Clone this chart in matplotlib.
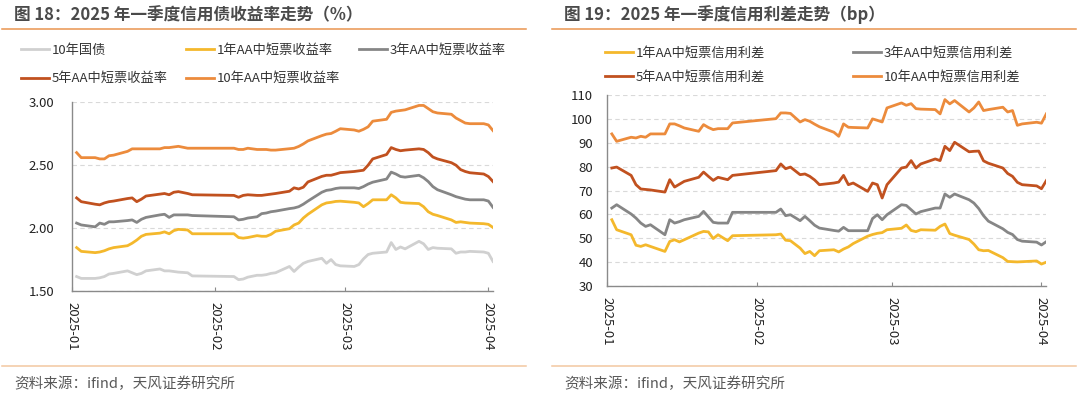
import matplotlib
matplotlib.use('Agg')
import matplotlib.pyplot as plt
import matplotlib.dates as mdates
import pandas as pd
from matplotlib.lines import Line2D

plt.rcParams['font.family'] = ['Noto Sans CJK SC', 'DejaVu Sans']

# 交易日（含 1 月 26 日、2 月 8 日调休工作日）
dates = pd.to_datetime([
    '2025-01-02', '2025-01-03', '2025-01-06', '2025-01-07', '2025-01-08', '2025-01-09', '2025-01-10',
    '2025-01-13', '2025-01-14', '2025-01-15', '2025-01-16', '2025-01-17', '2025-01-20', '2025-01-21',
    '2025-01-22', '2025-01-23', '2025-01-24', '2025-01-26', '2025-01-27',
    '2025-02-05', '2025-02-06', '2025-02-07', '2025-02-08', '2025-02-10', '2025-02-11', '2025-02-12',
    '2025-02-13', '2025-02-14', '2025-02-17', '2025-02-18', '2025-02-19', '2025-02-20', '2025-02-21',
    '2025-02-24', '2025-02-25', '2025-02-26', '2025-02-27', '2025-02-28',
    '2025-03-03', '2025-03-04', '2025-03-05', '2025-03-06', '2025-03-07', '2025-03-10', '2025-03-11',
    '2025-03-12', '2025-03-13', '2025-03-14', '2025-03-17', '2025-03-18', '2025-03-19', '2025-03-20',
    '2025-03-21', '2025-03-24', '2025-03-25', '2025-03-26', '2025-03-27', '2025-03-28', '2025-03-31',
    '2025-04-01', '2025-04-02'])

# 图 18：收益率（%）
gov10 = [1.615, 1.600, 1.600, 1.605, 1.615, 1.635, 1.640, 1.660, 1.645, 1.630, 1.640, 1.660, 1.675, 1.660,
         1.660, 1.655, 1.650, 1.645, 1.620,
         1.615, 1.590, 1.595, 1.610, 1.625, 1.625, 1.630, 1.640, 1.645, 1.695, 1.655, 1.690, 1.720, 1.735,
         1.760, 1.720, 1.750, 1.710, 1.700,
         1.695, 1.710, 1.755, 1.790, 1.800, 1.810, 1.885, 1.830, 1.850, 1.835, 1.895, 1.875, 1.830, 1.845,
         1.840, 1.835, 1.800, 1.810, 1.810, 1.815, 1.810,
         1.800, 1.735]
aa1y = [1.845, 1.815, 1.805, 1.810, 1.820, 1.835, 1.845, 1.860, 1.880, 1.905, 1.935, 1.950, 1.960, 1.970,
        1.955, 1.980, 1.990, 1.985, 1.955,
        1.955, 1.925, 1.920, 1.925, 1.940, 1.935, 1.935, 1.950, 1.975, 1.995, 2.025, 2.040, 2.080, 2.110,
        2.185, 2.200, 2.205, 2.212, 2.214,
        2.205, 2.200, 2.170, 2.195, 2.225, 2.225, 2.265, 2.240, 2.205, 2.200, 2.195, 2.170, 2.130, 2.110,
        2.100, 2.065, 2.045, 2.050, 2.045, 2.040, 2.035,
        2.030, 2.005]
aa3y = [2.040, 2.025, 2.010, 2.040, 2.030, 2.050, 2.050, 2.060, 2.065, 2.045, 2.070, 2.085, 2.105, 2.110,
        2.085, 2.105, 2.105, 2.105, 2.100,
        2.090, 2.065, 2.070, 2.080, 2.090, 2.115, 2.120, 2.130, 2.135, 2.155, 2.160, 2.170, 2.190, 2.215,
        2.285, 2.300, 2.305, 2.315, 2.320,
        2.320, 2.315, 2.330, 2.350, 2.365, 2.390, 2.445, 2.430, 2.410, 2.405, 2.420, 2.400, 2.370, 2.330,
        2.305, 2.265, 2.250, 2.240, 2.230, 2.225, 2.225,
        2.215, 2.165]
aa5y = [2.240, 2.210, 2.190, 2.185, 2.200, 2.210, 2.215, 2.235, 2.240, 2.210, 2.230, 2.255, 2.270, 2.275,
        2.265, 2.285, 2.290, 2.275, 2.265,
        2.260, 2.245, 2.260, 2.265, 2.260, 2.260, 2.265, 2.270, 2.275, 2.293, 2.320, 2.311, 2.325, 2.367,
        2.411, 2.420, 2.420, 2.430, 2.441,
        2.450, 2.455, 2.460, 2.500, 2.550, 2.585, 2.640, 2.625, 2.615, 2.620, 2.630, 2.625, 2.600, 2.565,
        2.550, 2.520, 2.500, 2.465, 2.450, 2.440, 2.430,
        2.410, 2.370]
aa10y = [2.600, 2.560, 2.560, 2.550, 2.550, 2.575, 2.580, 2.610, 2.630, 2.630, 2.630, 2.630, 2.630, 2.640,
         2.640, 2.645, 2.650, 2.635, 2.635,
         2.635, 2.625, 2.625, 2.635, 2.625, 2.625, 2.625, 2.620, 2.620, 2.631, 2.635, 2.649, 2.669, 2.693,
         2.735, 2.747, 2.752, 2.770, 2.790,
         2.780, 2.770, 2.785, 2.805, 2.850, 2.865, 2.920, 2.930, 2.935, 2.940, 2.975, 2.975, 2.950, 2.925,
         2.915, 2.905, 2.875, 2.855, 2.835, 2.830, 2.830,
         2.820, 2.775]

# 图 19：信用利差（bp）
sp1y = [57.8, 53.6, 51.5, 47.1, 46.6, 47.3, 46.6, 44.5, 48.7, 49.4, 48.5, 49.4, 52.2, 52.9, 52.7, 49.9,
        51.5, 49.0, 51.1,
        51.5, 51.8, 49.2, 49.0, 45.9, 43.6, 44.5, 42.7, 44.8, 45.2, 44.3, 45.5, 46.4, 47.8, 50.9, 51.6,
        52.1, 52.4, 53.6,
        54.2, 55.6, 53.3, 52.8, 53.6, 53.4, 55.0, 56.0, 52.0, 51.3, 49.5, 47.6, 45.2, 44.8, 44.9, 41.9,
        40.3, 40.2, 40.1, 40.2, 40.5,
        39.2, 40.0]
sp3y = [62.7, 64.1, 60.2, 58.5, 56.4, 55.0, 55.7, 51.5, 57.8, 56.4, 57.0, 57.8, 59.2, 61.3, 59.0, 56.7,
        56.4, 56.4, 60.9,
        60.9, 62.3, 59.5, 59.9, 57.4, 59.2, 57.4, 55.5, 54.3, 53.3, 53.0, 54.6, 53.2, 53.2, 53.2, 58.3,
        59.9, 57.8, 59.9,
        64.1, 63.8, 62.0, 60.2, 61.2, 62.7, 62.7, 68.6, 67.2, 68.6, 66.2, 64.8, 62.5, 59.5, 57.2, 54.0,
        52.5, 51.6, 49.5, 48.8, 48.4,
        47.2, 48.6]
sp5y = [79.5, 79.9, 76.4, 72.5, 70.7, 70.5, 70.3, 69.4, 74.6, 71.5, 72.7, 73.9, 75.6, 77.8, 76.0, 74.3,
        75.6, 74.6, 76.4,
        78.4, 81.2, 79.2, 79.9, 76.7, 77.0, 76.0, 74.5, 72.5, 73.2, 73.6, 76.4, 72.5, 73.2, 69.7, 73.2,
        72.5, 66.9, 72.5,
        79.5, 79.9, 82.6, 79.5, 81.2, 83.3, 82.6, 88.6, 86.8, 90.3, 86.3, 86.5, 86.6, 82.5, 81.5, 79.5,
        77.2, 76.0, 73.5, 72.5, 72.0,
        70.8, 74.2]
sp10y = [93.8, 90.7, 92.4, 92.1, 92.8, 92.4, 93.8, 93.8, 98.0, 98.0, 97.2, 96.3, 94.9, 97.7, 96.5, 95.6,
         96.0, 96.0, 98.4,
         100.2, 102.6, 102.6, 102.4, 98.8, 99.8, 99.1, 97.9, 96.8, 94.5, 92.8, 98.0, 96.6, 96.5, 96.3,
         100.1, 99.5, 98.8, 104.7,
         106.8, 105.8, 106.5, 104.4, 104.2, 104.0, 102.2, 108.2, 106.4, 107.8, 103.0, 104.7, 107.2, 103.6,
         104.0, 105.0, 103.0, 103.6, 97.4, 98.0, 98.7,
         98.3, 102.2]

left_names = ['10年国债', '1年AA中短票收益率', '3年AA中短票收益率', '5年AA中短票收益率', '10年AA中短票收益率']
right_names = ['1年AA中短票信用利差', '3年AA中短票信用利差', '5年AA中短票信用利差', '10年AA中短票信用利差']

c_gov = '#d0d0d0'
c_1y = '#f4b82c'
c_3y = '#868686'
c_5y = '#c1511f'
c_10y = '#ec8b3c'

W, H = 1080, 397
fig = plt.figure(figsize=(W / 100, H / 100), dpi=100)


def fx(px):
    return px / W


def fy(py):
    return 1 - py / H


def style_axes(ax, ypad):
    for s in ['top', 'right']:
        ax.spines[s].set_visible(False)
    for s in ['left', 'bottom']:
        ax.spines[s].set_color('#8a8a8a')
        ax.spines[s].set_linewidth(1.0)
    ax.set_xlim(pd.Timestamp('2025-01-01'), pd.Timestamp('2025-04-02'))
    ax.xaxis.set_major_locator(mdates.MonthLocator())
    ax.xaxis.set_major_formatter(mdates.DateFormatter('%Y-%m'))
    ax.tick_params(axis='x', direction='in', length=3, color='#8a8a8a', labelsize=9.5,
                   labelrotation=-90, pad=8, labelcolor='#222222')
    ax.tick_params(axis='y', length=0, labelsize=9.5, pad=ypad, labelcolor='#222222')
    ax.yaxis.grid(True, linestyle=(0, (4, 3)), color='#d9d9d9', linewidth=0.8)
    ax.set_axisbelow(True)


# 左图
ax1 = fig.add_axes([fx(72), fy(291), fx(421), (291 - 102.3) / H])
for vals, c in zip([gov10, aa1y, aa3y, aa5y, aa10y], [c_gov, c_1y, c_3y, c_5y, c_10y]):
    ax1.plot(dates, vals, color=c, lw=2.0, solid_joinstyle='round')
ax1.set_ylim(1.5, 3.0)
ax1.set_yticks([1.5, 2.0, 2.5, 3.0])
ax1.yaxis.set_major_formatter(plt.FormatStrFormatter('%.2f'))
style_axes(ax1, 13)

h = ax1.get_lines()
order = [0, 3, 1, 4, 2]
leg1 = ax1.legend([h[i] for i in order], [left_names[i] for i in order], ncol=3, loc='upper left',
                  bbox_to_anchor=(fx(21), fy(44)), bbox_transform=fig.transFigure, frameon=False,
                  fontsize=9.5, handlelength=2.1, handletextpad=0.2, columnspacing=1.45,
                  labelspacing=1.15, borderpad=0, borderaxespad=0)
for t in leg1.get_texts():
    t.set_color('#333333')

# 右图
ax2 = fig.add_axes([fx(607), fy(286), fx(439.3), (286 - 95.3) / H])
for vals, c in zip([sp1y, sp3y, sp5y, sp10y], [c_1y, c_3y, c_5y, c_10y]):
    ax2.plot(dates, vals, color=c, lw=2.0, solid_joinstyle='round')
ax2.set_ylim(30, 110)
ax2.set_yticks(range(30, 111, 10))
style_axes(ax2, 10)

h = ax2.get_lines()
order = [0, 2, 1, 3]
leg2 = ax2.legend([h[i] for i in order], [right_names[i] for i in order], ncol=2, loc='upper left',
                  bbox_to_anchor=(fx(605), fy(47)), bbox_transform=fig.transFigure, frameon=False,
                  fontsize=9.5, handlelength=2.1, handletextpad=0.2, columnspacing=6.7,
                  labelspacing=0.8, borderpad=0, borderaxespad=0)
for t in leg2.get_texts():
    t.set_color('#333333')

# 标题、分隔线、资料来源
fig.text(fx(14), fy(15), '图 18：2025 年一季度信用债收益率走势（%）', fontsize=12, fontweight='bold',
         color='#4a4a4a', va='center', ha='left')
fig.text(fx(564), fy(15), '图 19：2025 年一季度信用利差走势（bp）', fontsize=12, fontweight='bold',
         color='#4a4a4a', va='center', ha='left')
for x0, x1 in [(2, 526), (552, 1076)]:
    fig.add_artist(Line2D([fx(x0), fx(x1)], [fy(29), fy(29)], transform=fig.transFigure,
                          color='#ea9450', lw=1.1))
    fig.add_artist(Line2D([fx(x0), fx(x1)], [fy(366), fy(366)], transform=fig.transFigure,
                          color='#f3c7a1', lw=1.1))
fig.text(fx(14), fy(384), '资料来源：ifind，天风证券研究所', fontsize=10.5, color='#595959',
         va='center', ha='left')
fig.text(fx(564), fy(384), '资料来源：ifind，天风证券研究所', fontsize=10.5, color='#595959',
         va='center', ha='left')

fig.savefig('out.png', dpi=100)
